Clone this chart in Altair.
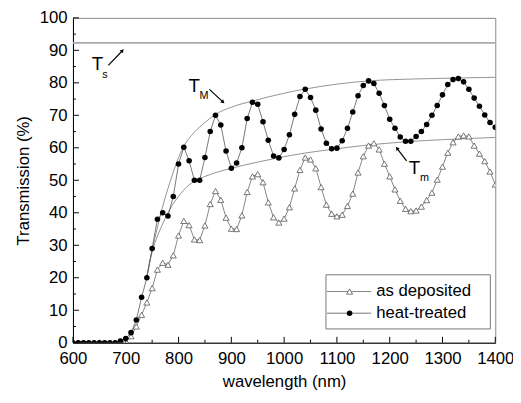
import altair as alt
import pandas as pd

FONT = "Liberation Sans"

# ---------------- data ----------------
wavelength = list(range(600, 1401, 10))

heat_treated = [
    0, 0, 0, 0, 0, 0, 0, 0, 0, 0.5,          # 600-690
    1.3, 3.1, 7, 14, 20, 29, 38, 40, 39, 45,  # 700-790
    55, 60.2, 56, 50, 50, 57, 65, 70, 67, 59,  # 800-890
    53.7, 55.3, 60, 69, 74, 73.4, 68, 62.3, 57.5, 56.9,  # 900-990
    59.5, 64, 70.3, 75.8, 78, 75.5, 71.6, 65.8, 61.4, 59.7,  # 1000-1090
    59.9, 62.2, 66, 71, 76, 79.2, 80.6, 79.8, 76.8, 73,  # 1100-1190
    68.8, 66, 63.3, 62, 62, 63.5, 65, 67.2, 70, 73,  # 1200-1290
    76.3, 79.5, 81, 81.3, 80.3, 78, 75.3, 72.8, 70.1, 67.8,  # 1300-1390
    66.3,  # 1400
]

as_deposited = [
    0, 0, 0, 0, 0, 0, 0, 0, 0, 0,            # 600-690
    0.5, 2, 5, 8.6, 12.4, 16.8, 22.5, 24.6, 24, 26.9,  # 700-790
    33, 37.5, 36.2, 31.8, 31.6, 36.1, 42.7, 46.7, 44, 38.5,  # 800-890
    35.1, 35, 39.2, 46.4, 51.2, 51.9, 49.4, 43.2, 38.6, 37,  # 900-990
    38.2, 41.7, 47.5, 53.2, 57, 56.4, 53.7, 47.9, 42.5, 39.7,  # 1000-1090
    38.9, 39.4, 42.1, 45.9, 52.4, 57.4, 60.7, 61.4, 59.5, 55.1,  # 1100-1190
    51.2, 47.2, 43.7, 41.2, 40.5, 40.7, 41.9, 43.9, 46.2, 50.2,  # 1200-1290
    54.2, 58.5, 61.7, 63.5, 63.8, 63.5, 60.7, 58.2, 55.9, 52.7,  # 1300-1390
    48.7,  # 1400
]

# envelope curves T_M (upper) and T_m (lower)
env_upper_wl = [740, 750, 760, 770, 780, 790, 800, 810, 830, 850, 870, 900, 940,
                1000, 1040, 1100, 1160, 1250, 1330, 1400]
env_upper_T = [20.5, 28.5, 35.5, 42, 47.5, 52.5, 57, 60.5, 64.8, 67.8, 70.3, 72.5, 74.4,
               76.8, 78.1, 79.6, 80.6, 81.2, 81.5, 81.7]
env_lower_wl = [740, 750, 760, 770, 780, 790, 800, 810, 820, 835, 860, 900, 950,
                985, 1040, 1095, 1150, 1235, 1300, 1400]
env_lower_T = [20.5, 28, 32.8, 36.6, 40, 42.8, 45.1, 47, 48.6, 50.1, 51.8, 53.7, 55.6,
               56.8, 58.4, 59.6, 60.7, 61.9, 62.5, 63.2]

ts_level = 92.3

x_major = list(range(600, 1401, 100))
x_minor = list(range(650, 1400, 100))
y_major = list(range(0, 101, 10))
y_minor = list(range(5, 100, 10))

# annotation labels (main letter + subscript)
ann_main_label = ["T", "T", "T"]
ann_main_wl = [646.5, 829.5, 1247]
ann_main_T = [85.8, 78.9, 53.9]
ann_sub_label = ["s", "M", "m"]
ann_sub_wl = [660.5, 848, 1266]
ann_sub_T = [82.4, 75.9, 50.8]

# arrows (tail -> tip)
arr_wl1 = [667, 858.5, 1232]
arr_T1 = [85.4, 78.0, 56.0]
arr_wl2 = [693, 883.5, 1214.5]
arr_T2 = [89.8, 74.2, 59.7]
arr_angle = [43, 133, 323]

legend_labels = ["as deposited", "heat-treated"]

# ---------------- helpers ----------------
XS = alt.Scale(domain=[600, 1400], nice=False, zero=False)
YS = alt.Scale(domain=[0, 100], nice=False, zero=False)
XT = "wavelength (nm)"
YT = "Transmission (%)"


def X(f="wl"):
    return alt.X(f"{f}:Q", scale=XS, title=XT)


def Y(f="T"):
    return alt.Y(f"{f}:Q", scale=YS, title=YT)


W, H = 429, 330

df_ht = pd.DataFrame({"wl": wavelength, "T": heat_treated})
df_ad = pd.DataFrame({"wl": wavelength, "T": as_deposited})
df_env = pd.concat([
    pd.DataFrame({"wl": env_upper_wl, "T": env_upper_T, "c": "TM"}),
    pd.DataFrame({"wl": env_lower_wl, "T": env_lower_T, "c": "Tm"}),
])

ts_rule = alt.Chart(pd.DataFrame({"T": [ts_level]})).mark_rule(
    color="#aaaaaa", strokeWidth=1.6).encode(y=Y())

env = alt.Chart(df_env).mark_line(
    color="#777777", strokeWidth=0.8, interpolate="monotone").encode(
    x=X(), y=Y(), detail="c:N")

ad_line = alt.Chart(df_ad).mark_line(color="#666666", strokeWidth=0.8, clip=True).encode(x=X(), y=Y())
ad_pts = alt.Chart(df_ad).mark_point(
    shape="triangle-up", filled=True, color="white", stroke="#555555",
    strokeWidth=0.8, size=38, opacity=1, clip=True).encode(x=X(), y=Y())

ht_line = alt.Chart(df_ht).mark_line(color="#555555", strokeWidth=0.8, clip=True).encode(x=X(), y=Y())
ht_pts = alt.Chart(df_ht).mark_circle(color="black", size=32, opacity=1, clip=True).encode(x=X(), y=Y())

# inward ticks
yt_major = alt.Chart(pd.DataFrame({"T": y_major})).mark_rule(color="black", strokeWidth=1).encode(
    y=Y(), x=alt.value(0), x2=alt.value(6))
yt_minor = alt.Chart(pd.DataFrame({"T": y_minor})).mark_rule(color="black", strokeWidth=1).encode(
    y=Y(), x=alt.value(0), x2=alt.value(3))
xt_major = alt.Chart(pd.DataFrame({"wl": x_major})).mark_rule(color="black", strokeWidth=1).encode(
    x=X(), y=alt.value(H), y2=alt.value(H - 6))
xt_minor = alt.Chart(pd.DataFrame({"wl": x_minor})).mark_rule(color="black", strokeWidth=1).encode(
    x=X(), y=alt.value(H), y2=alt.value(H - 3))

# annotations
ann_main = alt.Chart(pd.DataFrame({"wl": ann_main_wl, "T": ann_main_T, "lab": ann_main_label})).mark_text(
    font=FONT, fontSize=19, color="black", align="center", baseline="middle").encode(
    x=X(), y=Y(), text="lab:N")
ann_sub = alt.Chart(pd.DataFrame({"wl": ann_sub_wl, "T": ann_sub_T, "lab": ann_sub_label})).mark_text(
    font=FONT, fontSize=11, color="black", align="center", baseline="middle").encode(
    x=X(), y=Y(), text="lab:N")
df_arr = pd.DataFrame({"wl": arr_wl1, "T": arr_T1, "wl2": arr_wl2, "T2": arr_T2, "ang": arr_angle})
arr_shaft = alt.Chart(df_arr).mark_rule(color="black", strokeWidth=1.2).encode(
    x=X(), y=Y(), x2="wl2:Q", y2="T2:Q")
arr_head = alt.Chart(df_arr).mark_point(shape="triangle", filled=True, color="black", size=18, opacity=1).encode(
    x=alt.X("wl2:Q", scale=XS, title=XT), y=alt.Y("T2:Q", scale=YS, title=YT),
    angle=alt.Angle("ang:Q", scale=None))

# legend (manual, inside plot, lower right)
one = pd.DataFrame({"k": [0]})
lg_box = alt.Chart(one).mark_rect(fill="white", stroke="#777777", strokeWidth=1).encode(
    x=alt.value(257), x2=alt.value(424), y=alt.value(261), y2=alt.value(316))
lg_l1 = alt.Chart(one).mark_rule(color="#666666", strokeWidth=0.8).encode(
    x=alt.value(258), x2=alt.value(303), y=alt.value(278))
lg_l2 = alt.Chart(one).mark_rule(color="#555555", strokeWidth=0.8).encode(
    x=alt.value(258), x2=alt.value(303), y=alt.value(300))
lg_p1 = alt.Chart(one).mark_point(shape="triangle-up", filled=True, color="white", stroke="#555555",
                                  strokeWidth=0.8, size=38, opacity=1).encode(x=alt.value(281), y=alt.value(278))
lg_p2 = alt.Chart(one).mark_circle(color="black", size=32, opacity=1).encode(x=alt.value(281), y=alt.value(300))
lg_t1 = alt.Chart(pd.DataFrame({"lab": [legend_labels[0]]})).mark_text(
    font=FONT, fontSize=17, color="black", align="left", baseline="middle").encode(
    x=alt.value(308), y=alt.value(278), text="lab:N")
lg_t2 = alt.Chart(pd.DataFrame({"lab": [legend_labels[1]]})).mark_text(
    font=FONT, fontSize=17, color="black", align="left", baseline="middle").encode(
    x=alt.value(308), y=alt.value(300), text="lab:N")

chart = alt.layer(
    ts_rule, env, ad_line, ad_pts, ht_line, ht_pts,
    yt_major, yt_minor, xt_major, xt_minor,
    ann_main, ann_sub, arr_shaft, arr_head,
    lg_box, lg_l1, lg_l2, lg_p1, lg_p2, lg_t1, lg_t2,
).properties(
    width=W, height=H,
    autosize=alt.AutoSizeParams(type="none"),
    padding={"left": 66, "top": 7, "right": 18, "bottom": 45},
    background="white",
).configure_view(
    stroke="#888888", strokeWidth=1,
).configure_axis(
    domainColor="black", domainWidth=1, ticks=False, grid=False,
    labelFont=FONT, labelFontSize=17, labelColor="black", labelPadding=6,
    labelFlush=False, labelOverlap=False,
    titleFont=FONT, titleFontSize=17, titleFontWeight="normal", titleColor="black",
).configure_axisX(
    values=x_major, format="d", labelPadding=8, titlePadding=7,
).configure_axisY(
    values=y_major, format="d", titlePadding=7,
)

chart.save("out.html", embed_options={"renderer": "svg", "actions": False})
